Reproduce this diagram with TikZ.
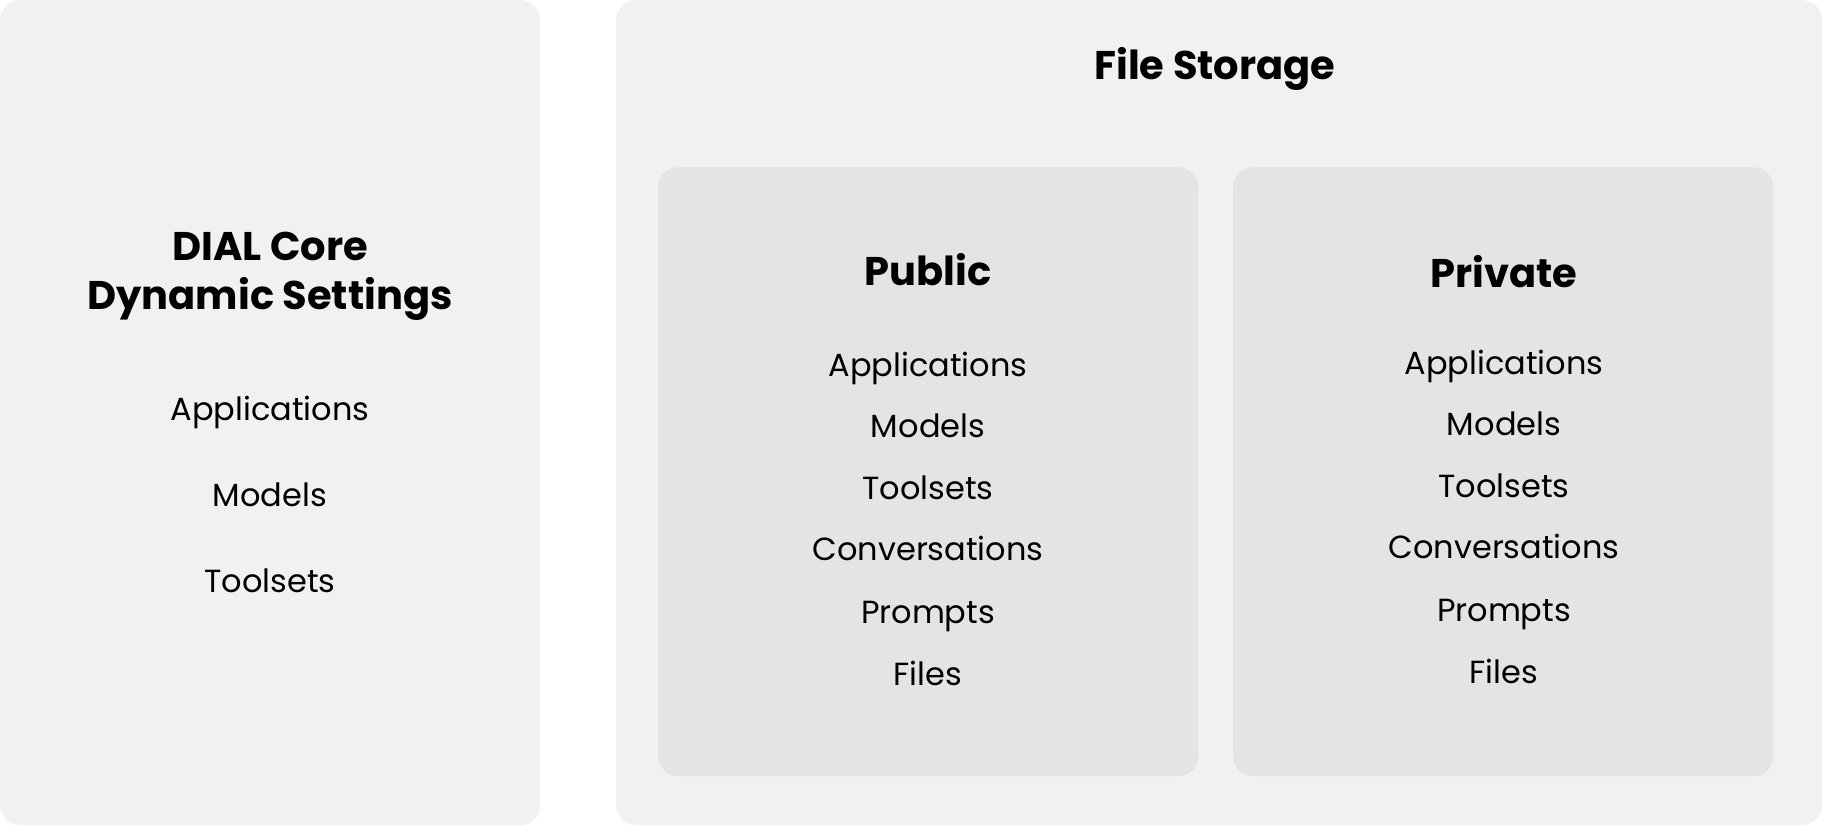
\documentclass[tikz,border=0pt]{standalone}
\usepackage{fontspec}
\setmainfont{Poppins}
\usetikzlibrary{positioning}
\definecolor{panelgray}{HTML}{F1F1F1}
\definecolor{boxgray}{HTML}{E4E4E4}

\begin{document}
\begin{tikzpicture}[x=1pt, y=-1pt,
panel/.style={fill=panelgray, draw=none, rounded corners=20pt, inner sep=0pt, anchor=north west},
store/.style={fill=boxgray, draw=none, rounded corners=20pt, inner sep=0pt, anchor=north west},
heading/.style={font=\fontsize{40}{48}\selectfont\bfseries, anchor=base, inner sep=0pt},
item/.style={font=\fontsize{32}{38}\selectfont, anchor=base, inner sep=0pt}]
\useasboundingbox (0,0) rectangle (1822,825);
\node[panel, minimum width=540pt, minimum height=825pt] (core) at (0,0) {};
\node[panel, minimum width=1206pt, minimum height=825pt] (storage) at (616,0) {};
\node[store, minimum width=540pt, minimum height=609pt] (public) at (658,167) {};
\node[store, minimum width=540pt, minimum height=609pt] (private) at (1233,167) {};
% left panel
\node[heading] (coretitle) at (270,260) {DIAL Core};
\node[heading] (coresub) at (270,309) {Dynamic Settings};
\node[item] (coreapps) at (270,420) {Applications};
\node[item] (coremodels) at (270,506) {Models};
\node[item] (coretools) at (270,592) {Toolsets};
% file storage
\node[heading] (storagetitle) at (1215,79) {File Storage};
\node[heading] (pubtitle) at (928,285) {Public};
\node[item] (pubapps) at (928,376) {Applications};
\node[item] (pubmodels) at (928,437) {Models};
\node[item] (pubtools) at (928,499) {Toolsets};
\node[item] (pubconv) at (928,560) {Conversations};
\node[item] (pubprompts) at (928,623) {Prompts};
\node[item] (pubfiles) at (928,685) {Files};
\node[heading] (privtitle) at (1504,287) {Private};
\node[item] (privapps) at (1504,374) {Applications};
\node[item] (privmodels) at (1504,435) {Models};
\node[item] (privtools) at (1504,497) {Toolsets};
\node[item] (privconv) at (1504,558) {Conversations};
\node[item] (privprompts) at (1504,621) {Prompts};
\node[item] (privfiles) at (1504,683) {Files};
\end{tikzpicture}
\end{document}
